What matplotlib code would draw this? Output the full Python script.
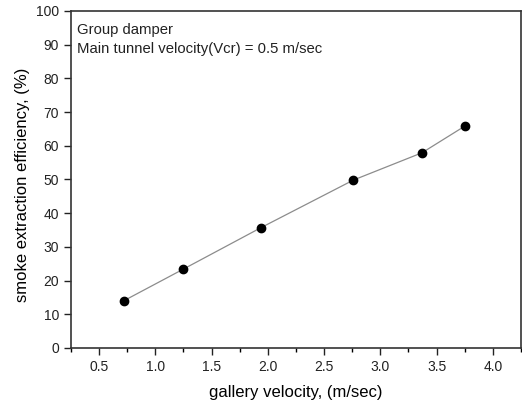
import matplotlib
matplotlib.use('Agg')
import matplotlib.pyplot as plt
from matplotlib.ticker import MultipleLocator

plt.rcParams['font.family'] = ['Liberation Sans', 'DejaVu Sans']

# data
gallery_velocity = [0.72, 1.25, 1.94, 2.76, 3.37, 3.75]
efficiency = [14.0, 23.4, 35.7, 49.8, 57.9, 65.8]

fig = plt.figure(figsize=(5.22, 4.05), dpi=100)
ax = fig.add_axes([0.136, 0.141, 0.862, 0.832])

ax.plot(gallery_velocity, efficiency, color='#8c8c8c', linewidth=0.9,
        marker='o', markersize=6, markerfacecolor='black', markeredgecolor='black')

ax.set_xlim(0.25, 4.25)
ax.set_ylim(0, 100)
ax.xaxis.set_major_locator(MultipleLocator(0.5))
ax.xaxis.set_minor_locator(MultipleLocator(0.25))
ax.yaxis.set_major_locator(MultipleLocator(10))
ax.tick_params(axis='both', which='major', direction='out', length=5, width=1,
               labelsize=10, colors='#222222')
ax.tick_params(axis='x', which='minor', direction='out', length=3, width=1)
ax.xaxis.set_major_formatter(plt.FormatStrFormatter('%.1f'))

for sp in ax.spines.values():
    sp.set_linewidth(1.2)
    sp.set_color('#333333')

ax.set_xlabel('gallery velocity, (m/sec)', fontsize=12, labelpad=8)
ax.set_ylabel('smoke extraction efficiency, (%)', fontsize=12)
ax.yaxis.set_label_coords(-0.09, 0.485)

ax.text(0.014, 0.965, 'Group damper\nMain tunnel velocity(Vcr) = 0.5 m/sec',
        transform=ax.transAxes, ha='left', va='top', fontsize=10.7,
        linespacing=1.5, color='#222222')

plt.savefig('out.png', dpi=100)
